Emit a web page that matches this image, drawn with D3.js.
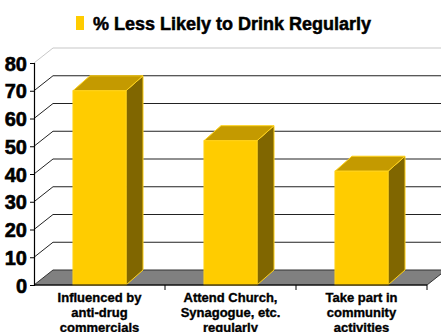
<!DOCTYPE html>
<html><head><meta charset="utf-8">
<script src="https://cdn.jsdelivr.net/npm/d3@7/dist/d3.min.js"></script>
<style>body{margin:0;background:#fff}svg{display:block}</style>
</head><body>
<svg id="c" width="441" height="332"></svg>
<script>
const categories = [
  ["Influenced by","anti-drug","commercials"],
  ["Attend Church,","Synagogue, etc.","regularly"],
  ["Take part in","community","activities"]
];
const values = [70, 52, 41];
const yTicks = [0,10,20,30,40,50,60,70,80];
const seriesName = "% Less Likely to Drink Regularly";

const svg = d3.select("#c");
const font = "'Liberation Sans', Arial, sans-serif";
const y = d3.scaleLinear().domain([0,80]).range([285,63]);
const x = d3.scaleBand().domain(d3.range(categories.length)).range([34,427]);
const wdx = 19, wdy = -15;   // wall depth
const bdx = 17, bdy = -15;   // bar depth
const bw = x.bandwidth()*0.405;

// floor
const x0 = 34, x1 = 427;
svg.append("path")
  .attr("d", `M${x0},${y(0)}L${x0+wdx},${y(0)+wdy}L${x1+wdx},${y(0)+wdy}L${x1},${y(0)}Z`)
  .attr("fill","#808080").attr("stroke","#333").attr("stroke-width",1);

// gridlines on back wall and side wall
yTicks.filter(t=>t>0).forEach(t=>{
  const col = t===80 ? "#c8c8c8" : "#222";
  svg.append("line").attr("x1",x0).attr("y1",y(t)).attr("x2",x0+wdx).attr("y2",y(t)+wdy)
    .attr("stroke",col).attr("stroke-width",1);
  svg.append("line").attr("x1",x0+wdx).attr("y1",y(t)+wdy).attr("x2",441).attr("y2",y(t)+wdy)
    .attr("stroke",col).attr("stroke-width",1.2);
});

// axis
const axis = d3.axisLeft(y).tickValues(yTicks).tickSize(4).tickPadding(3);
const ag = svg.append("g").attr("transform",`translate(${x0},0)`).call(axis);
ag.select(".domain").attr("stroke","#000").attr("stroke-width",1.2);
ag.selectAll(".tick line").attr("stroke","#000");
ag.selectAll(".tick text").attr("font-family",font).attr("font-weight","bold")
  .attr("font-size",20).attr("fill","#000").attr("stroke","#000").attr("stroke-width",0.6).attr("dy","0.36em");

// bars
values.forEach((v,i)=>{
  const bx = x(i) + (x.bandwidth()-bw)/2;
  const top = y(v), bot = y(0);
  const g = svg.append("g");
  g.append("path").attr("d",`M${bx+bw},${top}L${bx+bw+bdx},${top+bdy}L${bx+bw+bdx},${bot+bdy}L${bx+bw},${bot}Z`)
    .attr("fill","#806600").attr("stroke","#ffd21a").attr("stroke-width",1).attr("stroke-linejoin","round");
  g.append("path").attr("d",`M${bx},${top}L${bx+bdx},${top+bdy}L${bx+bw+bdx},${top+bdy}L${bx+bw},${top}Z`)
    .attr("fill","#c49a00").attr("stroke","#ffd21a").attr("stroke-width",1).attr("stroke-linejoin","round");
  g.append("rect").attr("x",bx).attr("y",top).attr("width",bw).attr("height",bot-top)
    .attr("fill","#ffcc00").attr("stroke","#ffd21a").attr("stroke-width",1);
});

// floor front edge and category ticks
svg.append("line").attr("x1",x0).attr("y1",y(0)).attr("x2",x1).attr("y2",y(0)).attr("stroke","#000").attr("stroke-width",1.2);
d3.range(categories.length+1).forEach(i=>{
  const xx = i<categories.length ? x(i) : x1;
  if(i>0) svg.append("line").attr("x1",xx).attr("y1",y(0)).attr("x2",xx).attr("y2",y(0)+5).attr("stroke","#000");
});

// category labels
categories.forEach((lines,i)=>{
  const cx = x(i)+x.bandwidth()/2;
  const t = svg.append("text").attr("font-family",font).attr("font-weight","bold").attr("font-size",13)
    .attr("text-anchor","middle").attr("fill","#000").attr("stroke","#000").attr("stroke-width",0.35);
  lines.forEach((l,k)=>t.append("tspan").attr("x",cx).attr("y",301.5+k*15.3).text(l));
});

// legend/title
svg.append("rect").attr("x",76).attr("y",16).attr("width",8).attr("height",14).attr("fill","#ffcc00");
svg.append("text").attr("x",93).attr("y",29.5).attr("font-family",font).attr("font-weight","bold")
  .attr("font-size",18).attr("fill","#000").attr("stroke","#000").attr("stroke-width",0.5).text(seriesName);
</script>
</body></html>
